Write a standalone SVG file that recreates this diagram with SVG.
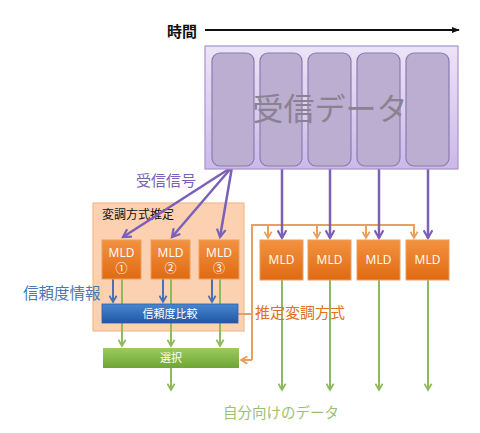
<svg xmlns="http://www.w3.org/2000/svg" width="480" height="433" viewBox="0 0 480 433">
<defs>
<linearGradient id="gData" x1="0" y1="0" x2="0" y2="1"><stop offset="0" stop-color="#ece4f8"/><stop offset="1" stop-color="#cbb9e8"/></linearGradient>
<linearGradient id="gOrange" x1="0" y1="0" x2="0" y2="1"><stop offset="0" stop-color="#f39240"/><stop offset="1" stop-color="#e06a12"/></linearGradient>
<linearGradient id="gBlue" x1="0" y1="0" x2="0" y2="1"><stop offset="0" stop-color="#4a86d0"/><stop offset="1" stop-color="#1f58a6"/></linearGradient>
<linearGradient id="gGreen" x1="0" y1="0" x2="0" y2="1"><stop offset="0" stop-color="#9ccb5c"/><stop offset="1" stop-color="#6fa535"/></linearGradient>
<marker id="aPurple" viewBox="0 0 10 10" refX="8" refY="5" markerWidth="11" markerHeight="11" markerUnits="userSpaceOnUse" orient="auto"><path d="M1,1 L8,5 L1,9" fill="none" stroke="#7a60b8" stroke-width="2"/></marker>
<marker id="aOrange" viewBox="0 0 10 10" refX="8" refY="5" markerWidth="9" markerHeight="9" markerUnits="userSpaceOnUse" orient="auto"><path d="M1,1 L8,5 L1,9" fill="none" stroke="#e8a060" stroke-width="2"/></marker>
<marker id="aGreen" viewBox="0 0 10 10" refX="8" refY="5" markerWidth="9" markerHeight="9" markerUnits="userSpaceOnUse" orient="auto"><path d="M1,1 L8,5 L1,9" fill="none" stroke="#8fba5c" stroke-width="2"/></marker>
<marker id="aBlue" viewBox="0 0 10 10" refX="8" refY="5" markerWidth="9" markerHeight="9" markerUnits="userSpaceOnUse" orient="auto"><path d="M1,1 L8,5 L1,9" fill="none" stroke="#4a70b0" stroke-width="2"/></marker>
<marker id="aBlack" viewBox="0 0 10 10" refX="9" refY="5" markerWidth="8" markerHeight="8" markerUnits="userSpaceOnUse" orient="auto"><path d="M0,1 L10,5 L0,9 Z" fill="#111"/></marker>
</defs>
<style>
text{font-family:"Noto Sans CJK JP","Liberation Sans",sans-serif}
.col{fill:#bcaed0;stroke:#8c7ab0;stroke-width:1.2}
.mld{fill:url(#gOrange);stroke:#e8a060;stroke-width:1}
.mt{fill:#fff;font-size:12px;text-anchor:middle;font-family:"Open Sans","Noto Sans CJK JP",sans-serif}
.pur{stroke:#7a60b8;stroke-width:2.5;fill:none;marker-end:url(#aPurple)}
.org{stroke:#e8a060;stroke-width:2;fill:none}
.grn{stroke:#8fba5c;stroke-width:2;fill:none}
.blu{stroke:#4a70b0;stroke-width:2;fill:none;marker-end:url(#aBlue)}
</style>
<rect width="480" height="433" fill="#fff"/>

<g id="time">
<text x="167" y="37" font-size="15" font-weight="bold" fill="#111">時間</text>
</g>

<g id="mod-est-box">
<rect x="93" y="203" width="151" height="128" fill="#fbd1b2" stroke="#f3b98c" stroke-width="1.2"/>
<text x="102" y="219" font-size="12" fill="#111">変調方式推定</text>
</g>

<g id="connectors">
<line x1="205" y1="30" x2="459" y2="30" stroke="#111" stroke-width="2" marker-end="url(#aBlack)"/>
<line class="grn" x1="122" y1="279" x2="122" y2="304"/>
<line class="grn" x1="171" y1="279" x2="171" y2="304"/>
<line class="grn" x1="220" y1="279" x2="220" y2="304"/>
<line class="grn" x1="122" y1="323" x2="122" y2="346" marker-end="url(#aGreen)"/>
<line class="grn" x1="171" y1="323" x2="171" y2="346" marker-end="url(#aGreen)"/>
<line class="grn" x1="220" y1="323" x2="220" y2="346" marker-end="url(#aGreen)"/>
<line class="grn" x1="171" y1="368" x2="171" y2="390" marker-end="url(#aGreen)"/>
<line class="grn" x1="282" y1="280" x2="282" y2="390" marker-end="url(#aGreen)"/>
<line class="grn" x1="330" y1="280" x2="330" y2="390" marker-end="url(#aGreen)"/>
<line class="grn" x1="379" y1="280" x2="379" y2="390" marker-end="url(#aGreen)"/>
<line class="grn" x1="428" y1="280" x2="428" y2="390" marker-end="url(#aGreen)"/>
<line class="blu" x1="113" y1="279" x2="113" y2="302"/>
<line class="blu" x1="163" y1="279" x2="163" y2="302"/>
<line class="blu" x1="212" y1="279" x2="212" y2="302"/>
<polyline class="org" points="238,314 252,314"/>
<polyline class="org" points="252,360 252,225 415,225"/>
<polyline class="org" points="252,360 241,360" marker-end="url(#aOrange)"/>
<line class="org" x1="268" y1="225" x2="268" y2="238" marker-end="url(#aOrange)"/>
<line class="org" x1="317" y1="225" x2="317" y2="238" marker-end="url(#aOrange)"/>
<line class="org" x1="366" y1="225" x2="366" y2="238" marker-end="url(#aOrange)"/>
<line class="org" x1="414" y1="225" x2="414" y2="238" marker-end="url(#aOrange)"/>
<line class="pur" x1="232" y1="167" x2="123" y2="237"/>
<line class="pur" x1="232" y1="167" x2="172" y2="237"/>
<line class="pur" x1="232" y1="167" x2="220" y2="237"/>
<line class="pur" x1="282" y1="166" x2="282" y2="238"/>
<line class="pur" x1="330" y1="166" x2="330" y2="238"/>
<line class="pur" x1="379" y1="166" x2="379" y2="238"/>
<line class="pur" x1="428" y1="166" x2="428" y2="238"/>
</g>

<g id="data">
<rect x="205" y="46" width="253" height="123" fill="url(#gData)" stroke="#a893cc" stroke-width="1.2"/>
<rect class="col" x="212" y="53" width="42" height="113" rx="8"/>
<rect class="col" x="260" y="53" width="42" height="113" rx="8"/>
<rect class="col" x="308" y="53" width="43" height="113" rx="8"/>
<rect class="col" x="357" y="53" width="43" height="113" rx="8"/>
<rect class="col" x="406" y="53" width="43" height="113" rx="8"/>
<text x="330" y="120" font-size="31" fill="#8a8290" text-anchor="middle">受信データ</text>
</g>

<g id="mld1"><rect class="mld" x="102" y="240" width="39" height="39"/><text class="mt" x="121.5" y="257">MLD</text><text class="mt" x="121.5" y="273">①</text></g>
<g id="mld2"><rect class="mld" x="151" y="240" width="39" height="39"/><text class="mt" x="170.5" y="257">MLD</text><text class="mt" x="170.5" y="273">②</text></g>
<g id="mld3"><rect class="mld" x="199" y="240" width="40" height="39"/><text class="mt" x="219" y="257">MLD</text><text class="mt" x="219" y="273">③</text></g>
<g id="mld4"><rect class="mld" x="260" y="240" width="43" height="40"/><text class="mt" x="281.5" y="264">MLD</text></g>
<g id="mld5"><rect class="mld" x="308" y="240" width="43" height="40"/><text class="mt" x="329.5" y="264">MLD</text></g>
<g id="mld6"><rect class="mld" x="357" y="240" width="43" height="40"/><text class="mt" x="378.5" y="264">MLD</text></g>
<g id="mld7"><rect class="mld" x="406" y="240" width="43" height="40"/><text class="mt" x="427.5" y="264">MLD</text></g>

<g id="compare"><rect x="102" y="304" width="136" height="19" fill="url(#gBlue)" stroke="#2a5ea8" stroke-width="0.8"/><text x="170" y="318" font-size="11" fill="#fff" text-anchor="middle">信頼度比較</text></g>
<g id="select"><rect x="103" y="348" width="136" height="20" fill="url(#gGreen)"/><text x="171" y="362" font-size="11" fill="#fff" text-anchor="middle">選択</text></g>

<g id="labels">
<text x="136" y="186" font-size="15" fill="#7a60b8">受信信号</text>
<text x="23" y="299" font-size="15.5" fill="#4a78b4">信頼度情報</text>
<text x="255" y="318" font-size="15" fill="#e07024">推定変調方式</text>
<text x="223" y="418" font-size="14.5" fill="#9cc070">自分向けのデータ</text>
</g>
</svg>
